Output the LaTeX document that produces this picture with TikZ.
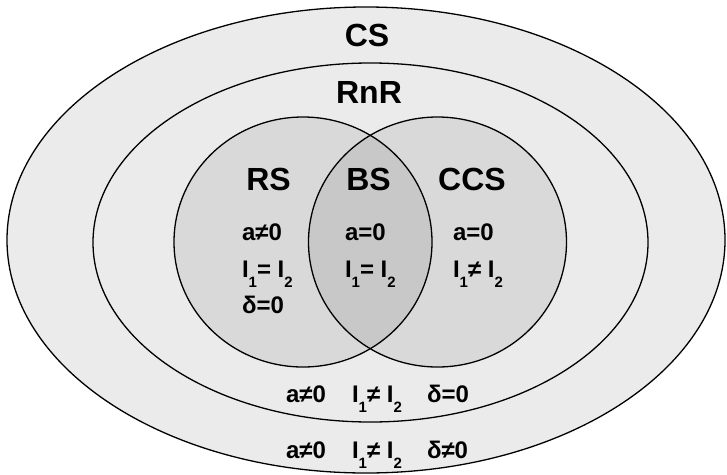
\documentclass[tikz,border=0pt]{standalone}
\usepackage{fontspec}
\setmainfont{Liberation Sans}
\definecolor{ringfill}{HTML}{EBEBEB}
\definecolor{circfill}{HTML}{D9D9D9}
\definecolor{overlapfill}{HTML}{C8C8C8}
\newcommand\subx[1]{\raisebox{-10.5pt}{\fontsize{15}{15}\selectfont #1}}
\begin{document}
\begin{tikzpicture}[x=1pt,y=-1pt,line width=1.3pt,
  bigtext/.style={font=\fontsize{32}{32}\selectfont\bfseries,inner sep=0pt,outer sep=0pt,anchor=base},
  smalltext/.style={font=\fontsize{24}{24}\selectfont\bfseries,inner sep=0pt,outer sep=0pt,anchor=base west}]
\useasboundingbox (0,0) rectangle (727,474);
% outer CS ellipse
\filldraw[fill=ringfill,draw=black] (366,240) ellipse [x radius=359pt, y radius=233pt];
% RnR ellipse
\filldraw[fill=ringfill,draw=black] (370.5,242.5) ellipse [x radius=277.5pt, y radius=179.5pt];
% circles
\fill[circfill] (303,242) ellipse [x radius=129pt, y radius=125pt];
\fill[circfill] (437.5,242) ellipse [x radius=129pt, y radius=125pt];
\begin{scope}
  \clip (303,242) ellipse [x radius=129pt, y radius=125pt];
  \fill[overlapfill] (437.5,242) ellipse [x radius=129pt, y radius=125pt];
\end{scope}
\draw (303,242) ellipse [x radius=129pt, y radius=125pt];
\draw (437.5,242) ellipse [x radius=129pt, y radius=125pt];
% headers
\node[bigtext] (cs) at (367,46) {CS};
\node[bigtext] (rnr) at (369,103) {RnR};
\node[bigtext] (rs) at (268.5,190) {RS};
\node[bigtext] (bs) at (368.5,190) {BS};
\node[bigtext] (ccs) at (472,190) {CCS};
% RS block
\node[smalltext] (rsa) at (242,240) {a≠0};
\node[smalltext] (rsi) at (242,277) {I\subx{1}= I\subx{2}};
\node[smalltext] (rsd) at (242,313) {δ=0};
% BS block
\node[smalltext] (bsa) at (345,240) {a=0};
\node[smalltext] (bsi) at (345,277) {I\subx{1}= I\subx{2}};
% CCS block
\node[smalltext] (ccsa) at (453,240) {a=0};
\node[smalltext] (ccsi) at (453,277) {I\subx{1}≠ I\subx{2}};
% RnR row
\node[smalltext] (ra) at (286,402) {a≠0};
\node[smalltext] (ri) at (352,402) {I\subx{1}≠ I\subx{2}};
\node[smalltext] (rd) at (427,402) {δ=0};
% CS row
\node[smalltext] (ca) at (286,458) {a≠0};
\node[smalltext] (ci) at (352,458) {I\subx{1}≠ I\subx{2}};
\node[smalltext] (cd) at (427,458) {δ≠0};
\end{tikzpicture}
\end{document}
